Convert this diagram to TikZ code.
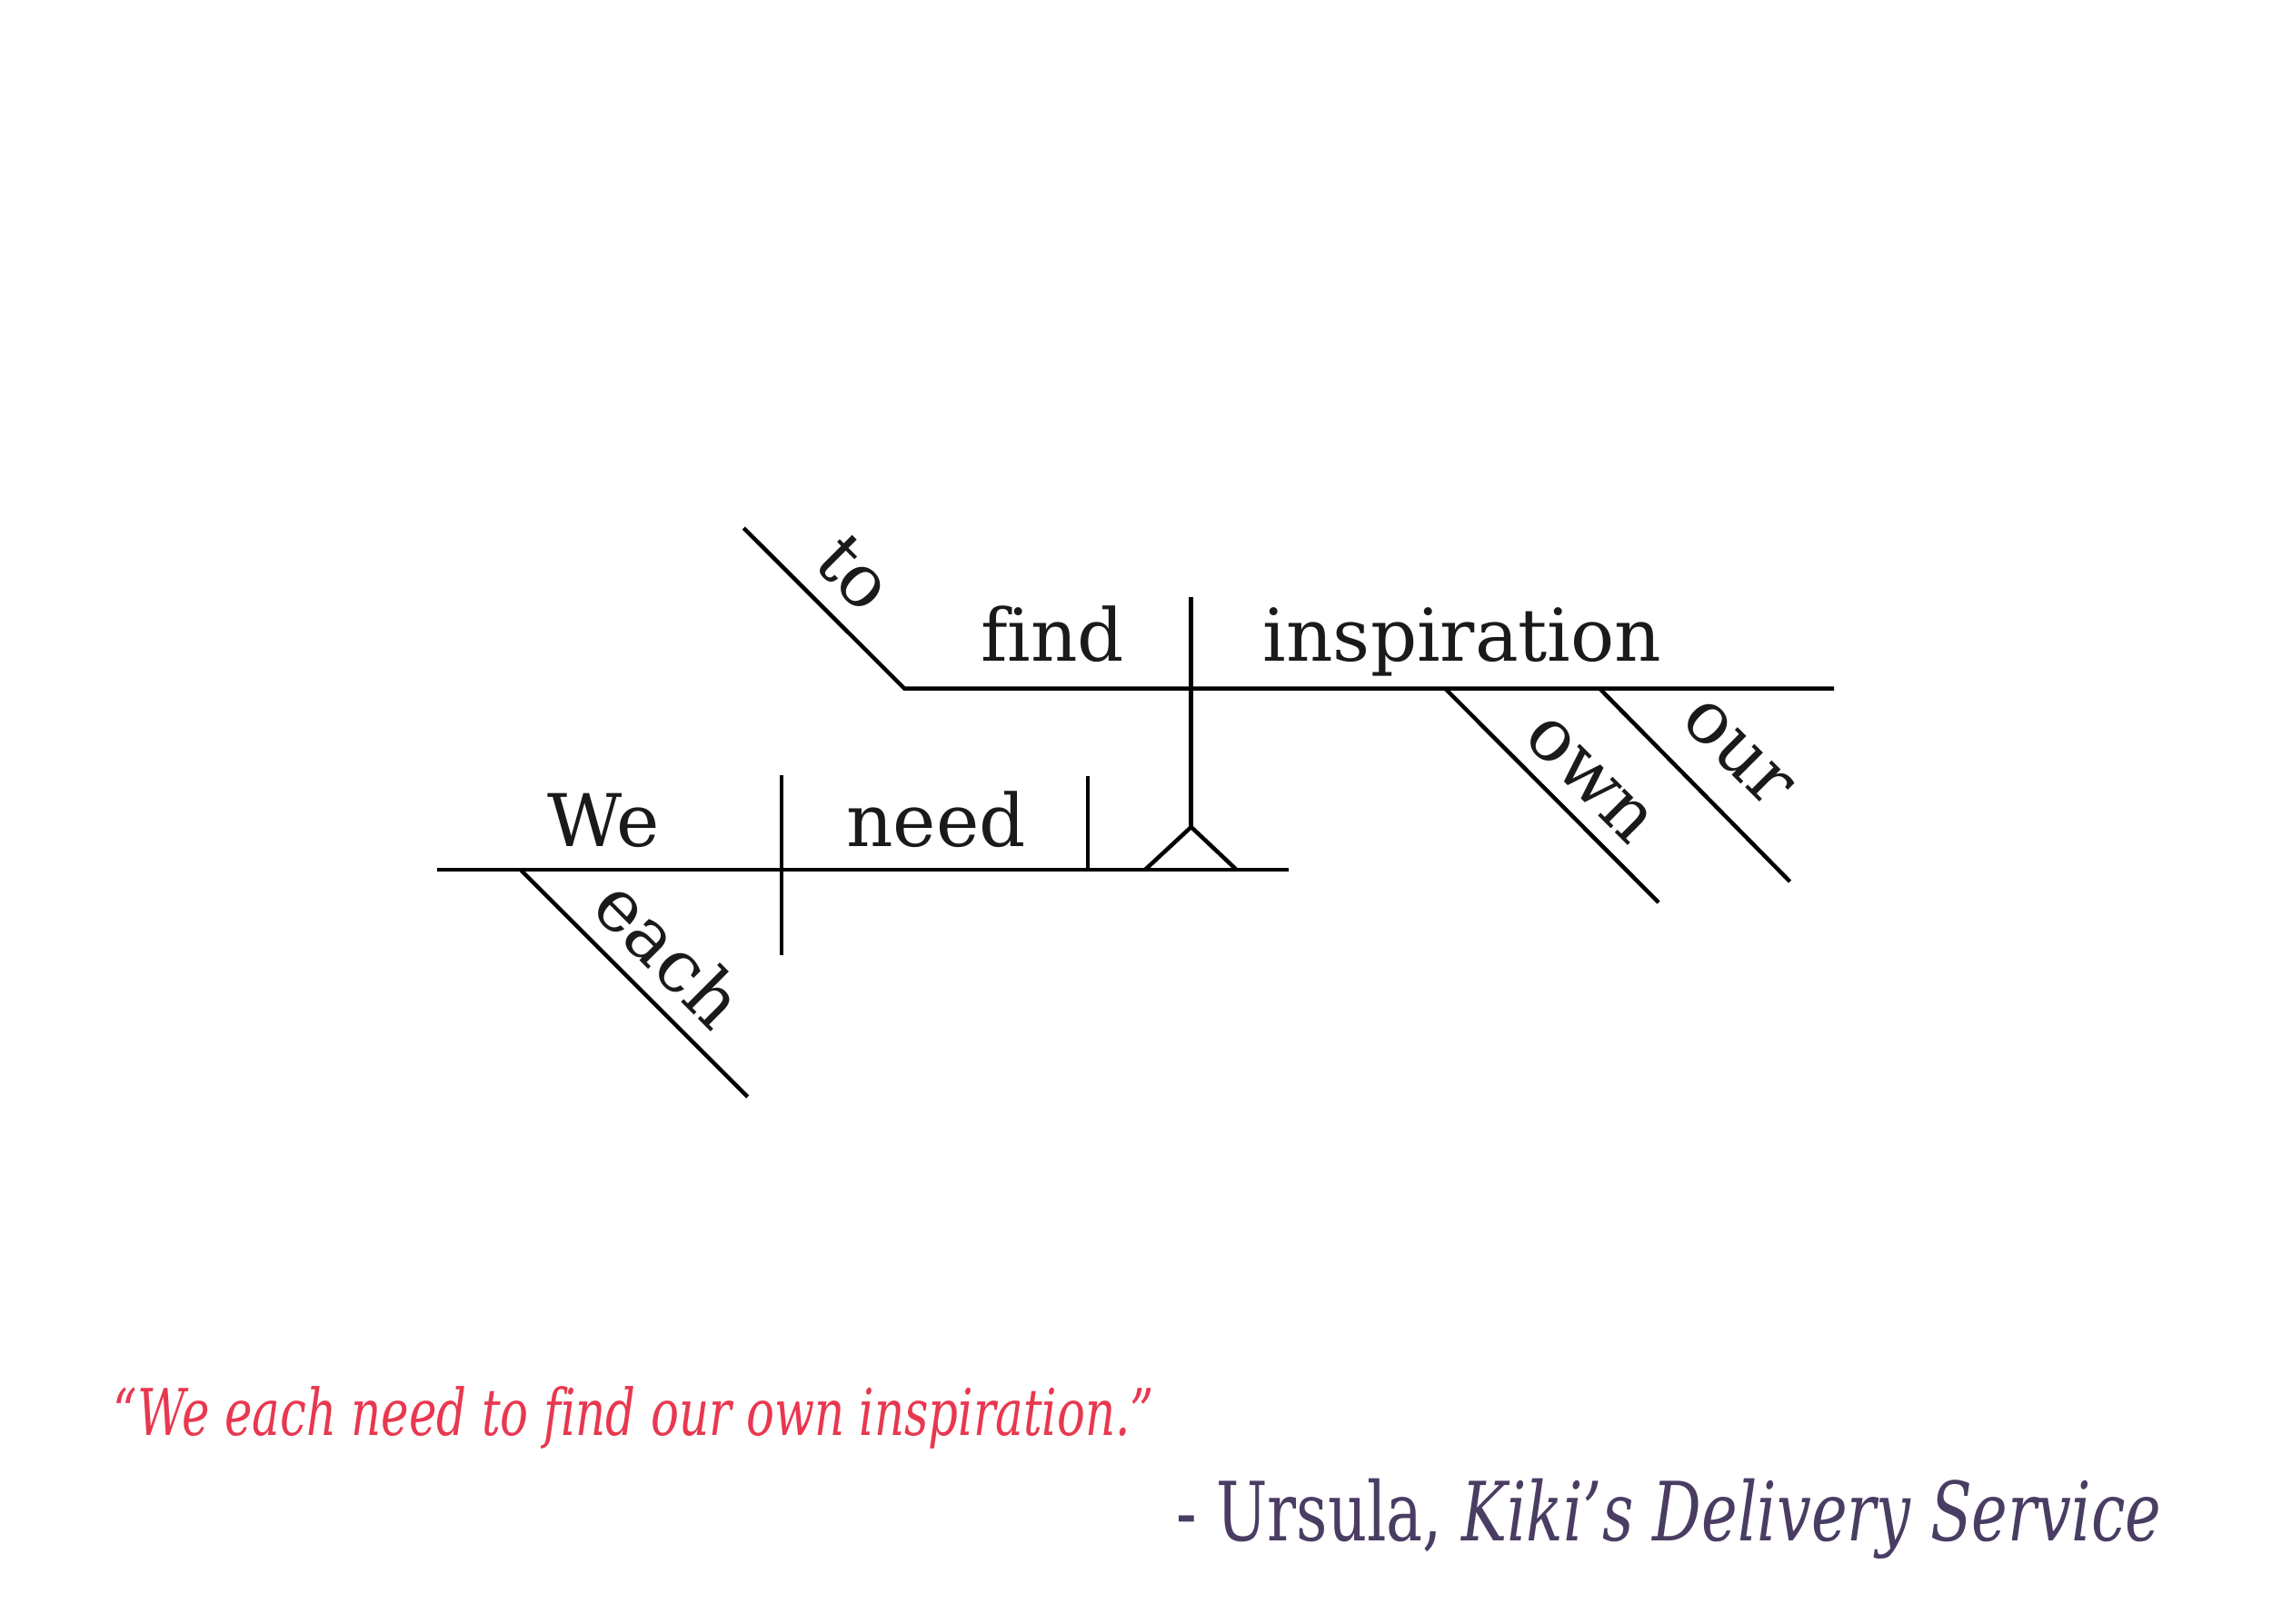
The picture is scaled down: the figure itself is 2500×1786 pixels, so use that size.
\documentclass[tikz,border=0pt]{standalone}
\usepackage{fontspec}
\setmainfont{DejaVu Serif}[Ligatures={NoCommon}]
\usepackage{graphicx}
\definecolor{wordcol}{HTML}{1A1A1A}
\definecolor{quotecol}{HTML}{E8384F}
\definecolor{authcol}{HTML}{4A3D63}
\newlength{\fitlen}
\newcommand{\fitto}[2]{\settowidth{\fitlen}{#2}\scalebox{\fpeval{#1/\fitlen}}[1]{#2}}
\begin{document}
\begin{tikzpicture}[x=1pt,y=-1pt,
  gline/.style={line width=4.5pt, black, line cap=butt, line join=miter},
  word/.style={inner sep=0pt, text=wordcol, font=\fontsize{80}{96}\selectfont, anchor=base},
  sword/.style={word, rotate=-45}]
\fill[white] (0,0) rectangle (2500,1786);
\useasboundingbox (0,0) rectangle (2500,1786);

% lower baseline
\coordinate (L1) at (481,957);
\coordinate (L2) at (1418,957);
\coordinate (E1) at (572.7,957);
\coordinate (E2) at (822.7,1207);
\coordinate (SV1) at (860,853);
\coordinate (SV2) at (860,1051);
\coordinate (VO1) at (1197,854);
\coordinate (VO2) at (1197,957);
\coordinate (T1) at (1260,957);
\coordinate (P) at (1310.7,910);
\coordinate (T2) at (1360.6,957);
\coordinate (ST) at (1310.7,657);
% upper baseline
\coordinate (TO1) at (818.3,581);
\coordinate (U1) at (995,757.5);
\coordinate (U2) at (2018,757.5);
\coordinate (OW1) at (1590,757.5);
\coordinate (OW2) at (1825,993);
\coordinate (OU1) at (1760,757.5);
\coordinate (OU2) at (1969.5,970);

\draw[gline] (L1) -- (L2);
\draw[gline] (E1) -- (E2);
\draw[gline] (SV1) -- (SV2);
\draw[gline] (VO1) -- (VO2);
\draw[gline] (T1) -- (P) -- (T2);
\draw[gline] (P) -- (ST);
\draw[gline] (TO1) -- (U1) -- (U2);
\draw[gline] (OW1) -- (OW2);
\draw[gline] (OU1) -- (OU2);

% words
\node[word] (we) at (664,931) {We};
\node[word] (need) at (1030,931) {need};
\node[word] (find) at (1158,727) {find};
\node[word] (insp) at (1609,727) {inspiration};
\node[sword] (each) at (716,1069) {each};
\node[sword] (to) at (921.5,649.6) {to};
\node[sword] (own) at (1733.5,872.8) {own};
\node[sword] (our) at (1896.5,843.1) {our};

% quote and attribution
\node[inner sep=0pt, anchor=base west, text=quotecol] (quote) at (124,1579)
  {\fitto{1146}{\fontsize{71}{85}\selectfont\itshape “We each need to find our own inspiration.”}};
\node[inner sep=0pt, anchor=base west, text=authcol] (author) at (1294,1695)
  {\fitto{1084}{\fontsize{90}{108}\selectfont - Ursula, \textit{Kiki’s Delivery Service}}};
\end{tikzpicture}
\end{document}
